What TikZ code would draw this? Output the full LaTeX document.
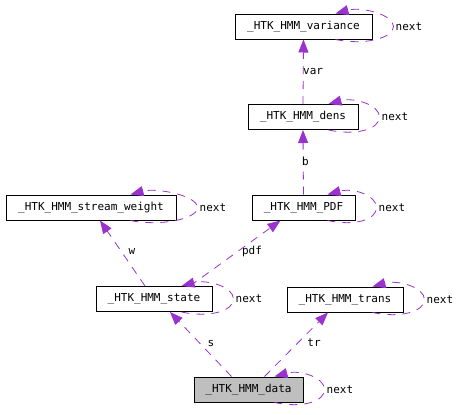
\documentclass[tikz,border=0pt]{standalone}
\usepackage{fontspec}
\setmonofont{DejaVu Sans Mono}
\usetikzlibrary{arrows.meta}
\definecolor{edgec}{HTML}{9A32CD}
\tikzset{
  cls/.style={draw=black, line width=1pt, minimum height=25pt, inner sep=0pt, font=\ttfamily\fontsize{11}{13}\selectfont, text=black},
  lbl/.style={font=\ttfamily\fontsize{11}{13}\selectfont, inner sep=1pt, text=black},
  edge/.style={draw=edgec, line width=0.8pt, dash pattern=on 8pt off 7pt, -{Triangle[length=13pt,width=10pt]}},
}
\newcommand\myselfloop[2]{%
  \draw[edge] ([xshift=-#2]#1.south east) .. controls +(28pt,-6pt) and +(0,-12pt) .. ([xshift=21pt]#1.east)
     .. controls +(0,12pt) and +(26pt,7pt) .. ([xshift=-#2]#1.north east);
  \node[lbl, anchor=west] at ([xshift=22pt]#1.east) {next};
}
\begin{document}
\begin{tikzpicture}[x=1pt,y=1pt]
\useasboundingbox (0,0) rectangle (459,-415);
\node[cls, minimum width=137pt] (var) at (303.5,-26.5) {\_HTK\_HMM\_variance};
\node[cls, minimum width=110pt] (dens) at (303,-117) {\_HTK\_HMM\_dens};
\node[cls, minimum width=170pt] (sw) at (91,-207.5) {\_HTK\_HMM\_stream\_weight};
\node[cls, minimum width=103pt] (pdf) at (303.5,-207.5) {\_HTK\_HMM\_PDF};
\node[cls, minimum width=116pt] (state) at (154,-299) {\_HTK\_HMM\_state};
\node[cls, minimum width=116pt] (trans) at (345,-299.5) {\_HTK\_HMM\_trans};
\node[cls, minimum width=109pt, fill=black!25] (data) at (248.5,-389.5) {\_HTK\_HMM\_data};

\myselfloop{var}{37pt}
\myselfloop{dens}{30pt}
\myselfloop{sw}{46pt}
\myselfloop{pdf}{28pt}
\myselfloop{state}{31pt}
\myselfloop{trans}{31pt}
\myselfloop{data}{29pt}

\draw[edge] (dens.north) -- (var.south);
\node[lbl, anchor=west] at (302,-71) {var};
\draw[edge] (pdf.north) -- (dens.south);
\node[lbl, anchor=west] at (301,-161) {b};
\draw[edge] ([xshift=-9pt]state.north) -- ([xshift=9pt]sw.south);
\node[lbl] (wl) at (132,-251) {w};
\draw[edge] ([xshift=36pt]state.north) -- ([xshift=-23pt]pdf.south);
\node[lbl] (pdfl) at (252,-251) {pdf};
\draw[edge] ([xshift=-17pt]data.north) -- ([xshift=16pt]state.south);
\node[lbl] (sl) at (211,-343) {s};
\draw[edge] ([xshift=16pt]data.north) -- ([xshift=-17pt]trans.south);
\node[lbl] (trl) at (314,-343) {tr};
\end{tikzpicture}
\end{document}
